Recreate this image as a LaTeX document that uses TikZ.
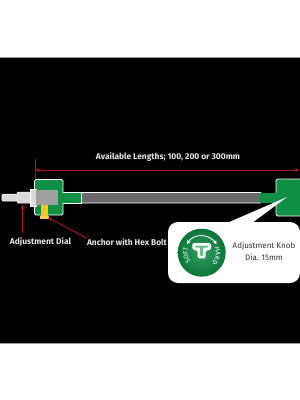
\documentclass[tikz,border=0pt]{standalone}
\usepackage{fontspec}
\setmainfont{Fira Sans}[FontFace={md}{n}{Font=* Medium}]
\usetikzlibrary{arrows.meta,decorations.text}
\definecolor{frame}{HTML}{9A9A9A}
\definecolor{leader}{HTML}{B01020}
\definecolor{anchorgreen}{HTML}{0F9145}
\definecolor{bodygrey}{HTML}{A0A0A0}
\definecolor{tubegrey}{HTML}{6A6A6A}
\definecolor{dial}{HTML}{DADADA}
\definecolor{bolt}{HTML}{F2C81E}
\definecolor{lbl}{HTML}{E6E6E6}
\tikzset{
  part/.style={draw=white,line width=0.8pt,rounded corners=1.5pt},
  leaderline/.style={draw=leader,line width=0.9pt,-{Stealth[length=4.5pt,width=4pt]}},
  caption/.style={font=\fontsize{8.4}{10}\selectfont\bfseries,text=lbl,inner sep=0pt},
  dark/.style={font=\fontsize{8}{11.5}\selectfont\mdseries,text=black!80,inner sep=0pt,align=center}
}
\begin{document}
\begin{tikzpicture}[x=1pt,y=-1pt]
  \useasboundingbox (0,0) rectangle (300,400);
  \fill[white] (0,0) rectangle (300,400);
  \fill[black] (0,57.5) rectangle (300,343);
  \draw[frame,line width=0.4pt] (0,57.5) -- (300,57.5) (0,343) -- (300,343);

  % tube, stems and end blocks
  \fill[part,fill=tubegrey] (80,192.5) rectangle (262,203);
  \fill[part,fill=anchorgreen] (34.5,179.5) rectangle (63,215);
  \fill[anchorgreen] (62,192.5) rectangle (81,203);
  \draw[white,line width=0.6pt] (63,192.5) -- (81,192.5) -- (81,203) -- (63,203);
  \fill[anchorgreen] (260,193) rectangle (278,203);
  \fill[part,fill=anchorgreen] (276,179) rectangle (303,216);
  \fill[anchorgreen] (274,193.4) rectangle (278,202.6);

  % adjustment dial, body and hex bolt
  \fill[dial,draw=white,line width=0.5pt,rounded corners=1pt] (2,194) rectangle (18,201);
  \fill[dial,draw=white,line width=0.5pt,rounded corners=1pt] (17,192) rectangle (32,203);
  \fill[dial,draw=white,line width=0.5pt] (30,189) rectangle (36,206);
  \fill[bodygrey] (35.5,190) rectangle (58,204.5);
  \fill[bolt] (41,205) rectangle (47.5,216);
  \fill[bolt!85!white] (40,216) rectangle (48.5,218.5);

  % callout with pointer
  \fill[white,rounded corners=10pt] (168,222) rectangle (300,283);
  \fill[white] (227,223) -- (287,197) -- (252,223) -- cycle;

  % adjustment knob face, drawn around its own centre with y pointing up
  \begin{scope}[shift={(201.7,252.7)},x=1pt,y=1pt]
    \node[circle,minimum size=48pt,inner sep=0pt,
          inner color=anchorgreen!85!white,outer color=anchorgreen!80!black] (knob) at (0,0) {};
    \draw[white,line width=0.9pt,{Stealth[length=4pt,width=4pt]}-{Stealth[length=4pt,width=4pt]}]
      (150:17) arc[start angle=150,end angle=30,radius=17];
    % T-shaped grip
    \fill[white,rounded corners=1.5pt]
      (-9.3,9.7) -- (9.3,9.7) -- (9.3,3) -- (4,2) -- (4,-5.6) -- (-4,-5.6) -- (-4,2) -- (-9.3,3) -- cycle;
    \fill[anchorgreen!60!white,rounded corners=0.8pt]
      (-6.5,7) -- (6.5,7) -- (6.5,5) -- (1.5,5) -- (1.5,-3.5) -- (-1.5,-3.5) -- (-1.5,5) -- (-6.5,5) -- cycle;
    % scale words along the rim, reading clockwise
    \path[postaction={decorate,decoration={text along path,text align=center,
          text={|\fontsize{6.6}{7}\selectfont\mdseries\color{white}|SOFT}}}]
      (238:14) arc[start angle=238,end angle=142,radius=14];
    \path[postaction={decorate,decoration={text along path,text align=center,
          text={|\fontsize{6.6}{7}\selectfont\mdseries\color{white}|HARD}}}]
      (38:14) arc[start angle=38,end angle=-58,radius=14];
  \end{scope}

  % captions
  \node[caption] (lenlabel) at (168,157.5) {Available Lengths; 100, 200 or 300mm};
  \node[caption] (diallabel) at (40.5,242) {Adjustment Dial};
  \node[caption] (boltlabel) at (127,242) {Anchor with Hex Bolt};
  \node[dark] (knoblabel) at (264,251.5) {Adjustment Knob\\Dia. 15mm};

  % length dimension and leaders
  \coordinate (dimL) at (35,170);
  \coordinate (dimR) at (299.5,170);
  \coordinate (tickT) at (35,159);
  \coordinate (tickB) at (35,178);
  \coordinate (dialtip) at (22.5,205);
  \coordinate (dialtail) at (22.5,233);
  \coordinate (bolttip) at (48,217.5);
  \draw[leader,line width=0.8pt] (tickT) -- (tickB);
  \draw[leader,line width=0.9pt,{Stealth[length=4.5pt,width=4pt]}-{Stealth[length=4.5pt,width=4pt]}] (dimL) -- (dimR);
  \draw[leaderline] (dialtail) -- (dialtip);
  \draw[leaderline] (boltlabel.north west) -- (bolttip);
\end{tikzpicture}
\end{document}
